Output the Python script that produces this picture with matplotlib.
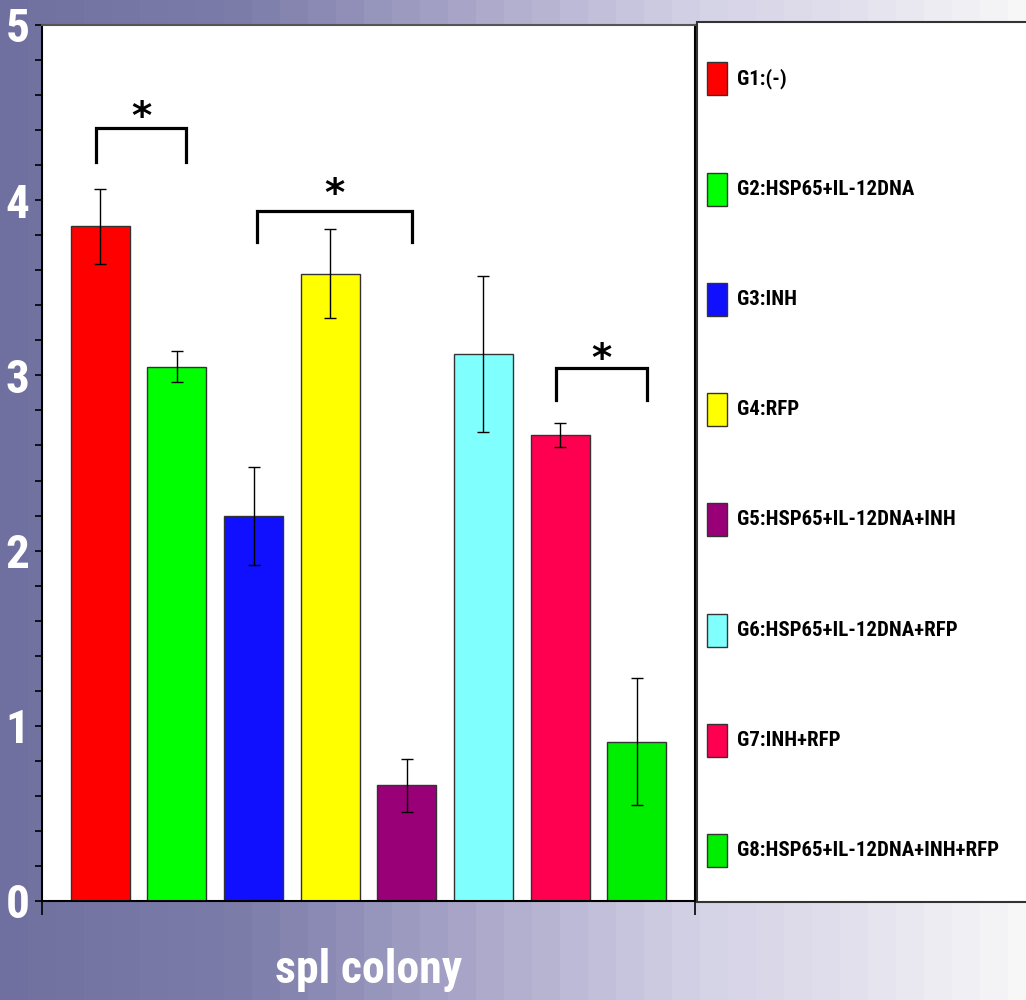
import numpy as np
import matplotlib
matplotlib.use("Agg")
import matplotlib.pyplot as plt
from matplotlib import font_manager
from matplotlib.patches import Rectangle

# data
groups = ["G1:(-)", "G2:HSP65+IL-12DNA", "G3:INH", "G4:RFP",
          "G5:HSP65+IL-12DNA+INH", "G6:HSP65+IL-12DNA+RFP",
          "G7:INH+RFP", "G8:HSP65+IL-12DNA+INH+RFP"]
means = [3.85, 3.05, 2.20, 3.58, 0.66, 3.12, 2.66, 0.91]
errors = [0.215, 0.09, 0.28, 0.255, 0.15, 0.445, 0.07, 0.36]
colors = ["#ff0000", "#00ff00", "#1010ff", "#ffff00",
          "#990078", "#80ffff", "#ff0050", "#00ee00"]

# significance brackets: (left x, right x, top y, leg bottom y)
brackets = [(-0.05, 1.12, 4.41, 4.22),
            (2.04, 4.07, 3.94, 3.76),
            (5.95, 7.13, 3.04, 2.86)]
star_y = [4.54, 4.10, 3.16]

# condensed font if there is one
installed = {f.name for f in font_manager.fontManager.ttflist}
narrow_family = "DejaVu Sans"
for cand in ["Liberation Sans Narrow", "Roboto Condensed", "Open Sans Condensed"]:
    if cand in installed:
        narrow_family = cand
        break
font_kw = dict(family=[narrow_family, "DejaVu Sans"], stretch="condensed")

W, H = 1026, 1000
fig = plt.figure(figsize=(W / 100, H / 100), dpi=100)

# stepped horizontal background gradient
bg = fig.add_axes([0, 0, 1, 1], zorder=-10)
stops_x = [0, 250, 500, 700, 850, 1026]
stops_c = np.array([(112, 112, 160), (125, 125, 170), (175, 172, 205),
                    (212, 210, 230), (226, 224, 236), (248, 248, 248)]) / 255
cols = (np.arange(W) // 28) * 28 + 14
grad = np.stack([np.interp(cols, stops_x, stops_c[:, k]) for k in range(3)], axis=-1)
bg.imshow(np.repeat(grad[None, :, :], 10, axis=0), aspect="auto", extent=[0, 1, 0, 1])
bg.set_axis_off()

ax = fig.add_axes([42 / W, 99 / H, 653 / W, 876 / H])
ax.set_facecolor("white")
x = np.arange(len(groups))
ax.bar(x, means, width=0.77, color=colors, edgecolor="#333333", linewidth=1,
       yerr=errors, capsize=4, error_kw=dict(elinewidth=1, ecolor="black", capthick=1))

for (x0, x1, ytop, ybot), sy in zip(brackets, star_y):
    ax.plot([x0, x0, x1, x1], [ybot, ytop, ytop, ybot], color="black", lw=2.3,
            solid_joinstyle="miter")
    ax.annotate("*", xy=((x0 + x1) / 2, sy), xytext=(0, -17), textcoords="offset points",
                ha="center", va="baseline", fontsize=28, fontweight="bold",
                family="DejaVu Sans")

ax.set_xlim(-0.76, 7.76)
ax.set_ylim(0, 5)
ax.set_xticks([-0.76, 7.76])
ax.set_xticklabels([])
ax.tick_params(axis="x", length=10, width=1.2, direction="out")
ax.set_yticks(range(6))
ax.set_yticks(np.arange(0, 5.01, 0.2), minor=True)
ax.tick_params(axis="y", which="both", length=5, width=1.2, direction="out", pad=4)
for lab in ax.get_yticklabels():
    lab.set_fontproperties(font_manager.FontProperties(size=34, weight="bold", **font_kw))
    lab.set_color("white")
for side in ["left", "bottom", "right"]:
    ax.spines[side].set_color("black")
    ax.spines[side].set_linewidth(1.5)
ax.spines["top"].set_color("#555555")
ax.spines["top"].set_linewidth(1.5)

ax.set_xlabel("spl colony", fontsize=33, fontweight="bold", color="white",
              labelpad=20, **font_kw)

# legend box on the right, cut by the image edge
fig.add_artist(Rectangle((697 / W, 98 / H), 400 / W, 880 / H, transform=fig.transFigure,
                         facecolor="white", edgecolor="#333333", linewidth=1.5))
for i, (name, c) in enumerate(zip(groups, colors)):
    yc = 1 - (79 + i * 110.2) / H
    fig.add_artist(Rectangle((707 / W, yc - 16.5 / H), 20 / W, 33 / H,
                             transform=fig.transFigure, facecolor=c,
                             edgecolor="#333333", linewidth=1))
    fig.text(737 / W, yc, name, fontsize=15, fontweight="bold",
             va="center", ha="left", color="black", **font_kw)

fig.savefig("out.png", dpi=100)
